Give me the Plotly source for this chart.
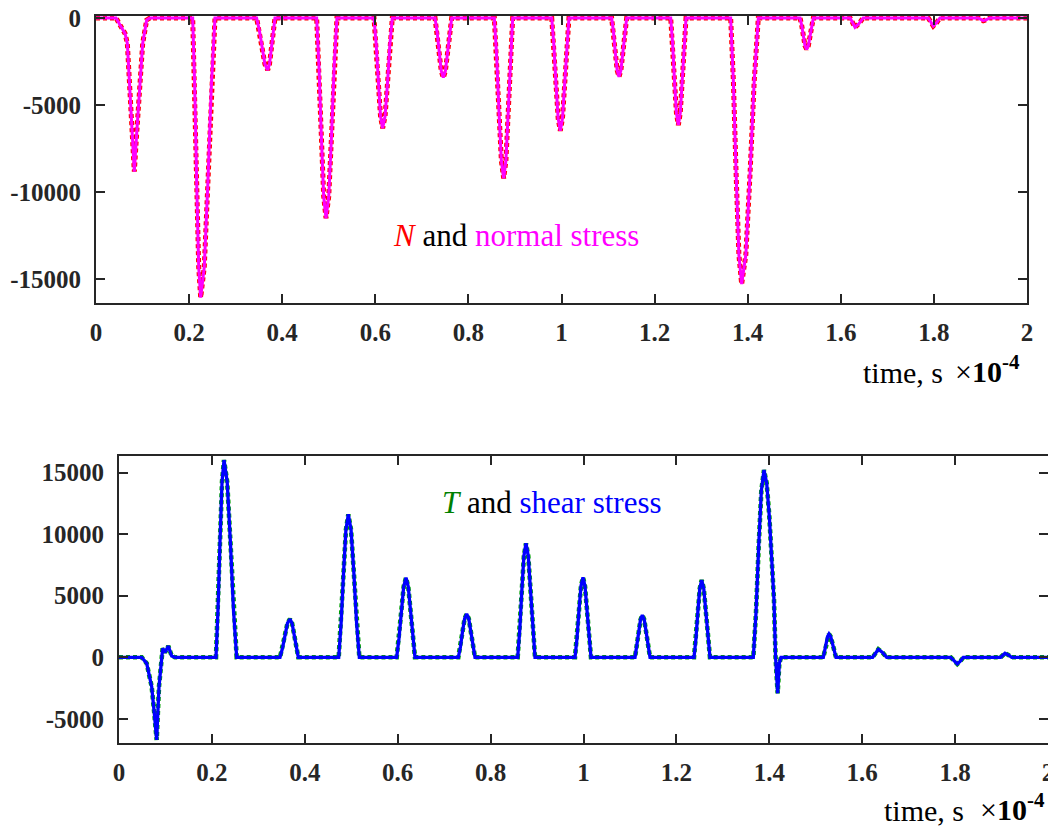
import plotly.graph_objects as go

# time in units of 1e-4 s
t_top = [0.0,
         0.043, 0.0516, 0.0623, 0.0673, 0.0745, 0.0802, 0.0823, 0.0874, 0.0945, 0.1003, 0.1089, 0.116,
         0.2077, 0.2120, 0.2163, 0.2206, 0.2249, 0.2326, 0.2403, 0.2479, 0.2556,
         0.345, 0.351, 0.3569, 0.3629, 0.3688, 0.3727, 0.3767, 0.3806, 0.3845,
         0.474, 0.479, 0.4841, 0.4891, 0.4941, 0.5, 0.5059, 0.5117, 0.5176,
         0.5972, 0.6019, 0.6065, 0.6112, 0.6158, 0.621, 0.6262, 0.6313, 0.6365,
         0.7283, 0.7328, 0.7372, 0.7417, 0.7461, 0.7506, 0.7551, 0.7596, 0.7641,
         0.8557, 0.8607, 0.8658, 0.8708, 0.8758, 0.8806, 0.8855, 0.8903, 0.8951,
         0.979, 0.9836, 0.9882, 0.9928, 0.9974, 1.0021, 1.0067, 1.0114, 1.016,
         1.1077, 1.1117, 1.1156, 1.1196, 1.1235, 1.1276, 1.1318, 1.1359, 1.14,
         1.2346, 1.2387, 1.2428, 1.2469, 1.251, 1.2551, 1.2593, 1.2634, 1.2675,
         1.3634, 1.3693, 1.3752, 1.3811, 1.387, 1.396, 1.4049, 1.4139, 1.4228,
         1.5124, 1.516, 1.5196, 1.5231, 1.5267, 1.5303, 1.5339, 1.5374, 1.541,
         1.62, 1.6253, 1.6305, 1.6393, 1.648,
         1.788, 1.7934, 1.7987, 1.806, 1.813,
         1.895, 1.9005, 1.906, 1.913, 1.92,
         2.0]

N_force = [0,
           0, -410, -890, -1460, -4710, -7580, -8830, -6630, -3380, -1460, -120, 0,
           0, -3850, -9480, -14290, -16060, -14290, -9480, -3850, 0,
           0, -720, -1760, -2660, -2990, -2660, -1760, -720, 0,
           0, -2760, -6790, -10240, -11500, -10240, -6790, -2760, 0,
           0, -1520, -3740, -5640, -6340, -5640, -3740, -1520, 0,
           0, -820, -2020, -3050, -3430, -3050, -2020, -820, 0,
           0, -2210, -5430, -8200, -9210, -8200, -5430, -2210, 0,
           0, -1560, -3820, -5770, -6480, -5770, -3820, -1560, 0,
           0, -810, -1990, -3010, -3380, -3010, -1990, -810, 0,
           0, -1480, -3630, -5470, -6150, -5470, -3630, -1480, 0,
           0, -3670, -9020, -13600, -15280, -13600, -9020, -3670, 0,
           0, -430, -1060, -1600, -1800, -1600, -1060, -430, 0,
           0, -320, -540, -320, 0,
           0, -270, -465, -270, 0,
           0, -95, -160, -95, 0,
           0]

normal_stress = list(N_force)

t_bot = [0.0,
         0.0489, 0.0596, 0.0704, 0.076, 0.0811, 0.0861, 0.0919, 0.094, 0.099, 0.1062, 0.1134, 0.1206,
         0.2088, 0.2131, 0.2175, 0.2218, 0.2261, 0.2329, 0.2397, 0.2465, 0.2533,
         0.3466, 0.352, 0.3574, 0.3627, 0.3681, 0.3726, 0.3771, 0.3815, 0.386,
         0.473, 0.4782, 0.4834, 0.4885, 0.4937, 0.4996, 0.5056, 0.5115, 0.5174,
         0.5978, 0.6028, 0.6079, 0.6129, 0.6179, 0.6227, 0.6276, 0.6324, 0.6372,
         0.7305, 0.735, 0.7395, 0.744, 0.7485, 0.753, 0.7575, 0.7619, 0.7664,
         0.8583, 0.8628, 0.8673, 0.8717, 0.8762, 0.8811, 0.8859, 0.8908, 0.8956,
         0.9817, 0.986, 0.9903, 0.9946, 0.9989, 1.0032, 1.0075, 1.0118, 1.0161,
         1.1109, 1.1148, 1.1188, 1.1227, 1.1266, 1.1308, 1.1349, 1.1391, 1.1432,
         1.2379, 1.242, 1.2462, 1.2503, 1.2544, 1.2589, 1.2634, 1.2678, 1.2723,
         1.3656, 1.3714, 1.3771, 1.3829, 1.3886, 1.3944, 1.4001, 1.4047, 1.4101, 1.4135, 1.418, 1.4216, 1.4252,
         1.5163, 1.5193, 1.5224, 1.5254, 1.5285, 1.5322, 1.536, 1.5398, 1.5436,
         1.6225, 1.6286, 1.6347, 1.6437, 1.6527,
         1.7905, 1.7977, 1.8048, 1.8113, 1.8177,
         1.8981, 1.9028, 1.9074, 1.9146, 1.9218,
         2.0]

T_force = [0,
           0, -490, -2390, -4550, -6710, -2390, 460, 730, 400, 920, 110, 0,
           0, 3840, 9450, 14250, 16010, 14250, 9450, 3840, 0,
           0, 750, 1830, 2770, 3110, 2770, 1830, 750, 0,
           0, 2790, 6850, 10330, 11610, 10330, 6850, 2790, 0,
           0, 1550, 3810, 5750, 6460, 5750, 3810, 1550, 0,
           0, 840, 2080, 3130, 3520, 3130, 2080, 840, 0,
           0, 2220, 5460, 8230, 9250, 8230, 5460, 2220, 0,
           0, 1560, 3830, 5780, 6490, 5780, 3830, 1560, 0,
           0, 820, 2020, 3050, 3430, 3050, 2020, 820, 0,
           0, 1500, 3700, 5580, 6270, 5580, 3700, 1500, 0,
           0, 3650, 8970, 13530, 15200, 14120, 11410, 8710, 4650, 0, -2920, -490, 0,
           0, 450, 1120, 1680, 1890, 1680, 1120, 450, 0,
           0, 390, 650, 390, 0,
           0, -320, -540, -320, 0,
           0, 190, 325, 190, 0,
           0]

shear_stress = list(T_force)

x_ticks = [0, 0.2, 0.4, 0.6, 0.8, 1, 1.2, 1.4, 1.6, 1.8, 2]
x_ticklabels = ["0", "0.2", "0.4", "0.6", "0.8", "1", "1.2", "1.4", "1.6", "1.8", "2"]
y_ticks_top = [-15000, -10000, -5000, 0]
y_ticks_bot = [-5000, 0, 5000, 10000, 15000]

OFF = 8  # page body margin
W, H = 1056, 830 - OFF
SERIF = "Liberation Serif, Times New Roman, serif"
AX = "#262626"

fig = go.Figure()
fig.add_trace(go.Scatter(x=t_top, y=N_force, mode="lines", name="N",
                         line=dict(color="#FF0000", width=5, dash="4px,3px"),
                         xaxis="x", yaxis="y"))
fig.add_trace(go.Scatter(x=t_top, y=normal_stress, mode="lines", name="normal stress",
                         line=dict(color="#FF00FF", width=3),
                         xaxis="x", yaxis="y"))
fig.add_trace(go.Scatter(x=t_bot, y=T_force, mode="lines", name="T",
                         line=dict(color="#00A000", width=4.6, dash="4px,3px"),
                         xaxis="x2", yaxis="y2"))
fig.add_trace(go.Scatter(x=t_bot, y=shear_stress, mode="lines", name="shear stress",
                         line=dict(color="#0000FF", width=3.3),
                         xaxis="x2", yaxis="y2"))


def px(v):
    return (v - OFF) / W


def py(v):
    return 1 - (v - OFF) / H


axis_common = dict(showline=True, linecolor=AX, linewidth=2, mirror="ticks",
                   ticks="inside", ticklen=9, tickwidth=2, tickcolor=AX,
                   showgrid=False, zeroline=False, automargin=False,
                   ticklabeloverflow="allow",
                   tickfont=dict(family=SERIF, size=25, color=AX))

fig.update_layout(
    width=W, height=H,
    margin=dict(l=0, r=0, t=0, b=0, autoexpand=False),
    paper_bgcolor="white", plot_bgcolor="white",
    showlegend=False,
    xaxis=dict(domain=[px(96), px(1027)], anchor="y", range=[0, 2],
               tickvals=x_ticks, ticktext=["<b>%s</b>" % s for s in x_ticklabels],
               ticklabelstandoff=6, **axis_common),
    yaxis=dict(domain=[py(302.7), py(15.7)], anchor="x", range=[-16350, 126],
               tickvals=y_ticks_top, ticktext=["<b>%d</b>" % v for v in y_ticks_top],
               ticklabelstandoff=8, **axis_common),
    xaxis2=dict(domain=[px(119), px(1048)], anchor="y2", range=[0, 2],
                tickvals=x_ticks, ticktext=["<b>%s</b>" % s for s in x_ticklabels],
                ticklabelstandoff=6, **axis_common),
    yaxis2=dict(domain=[py(743), py(456)], anchor="x2", range=[-6956, 16340],
                tickvals=y_ticks_bot, ticktext=["<b>%d</b>" % v for v in y_ticks_bot],
                ticklabelstandoff=8, **axis_common),
)

ann = []
ann.append(dict(x=px(516), y=py(235), xref="paper", yref="paper", showarrow=False,
                xanchor="center", yanchor="middle",
                text="<span style='color:#FF0000'><i>N</i></span> and <span style='color:#FF00FF'>normal stress</span>",
                font=dict(family=SERIF, size=31, color="black")))
ann.append(dict(x=px(552), y=py(502), xref="paper", yref="paper", showarrow=False,
                xanchor="center", yanchor="middle",
                text="<span style='color:#008000'><i>T</i></span> and <span style='color:#0000FF'>shear stress</span>",
                font=dict(family=SERIF, size=31, color="black")))
for (xr, yc, xs) in [(945, 372, 953), (966, 810, 978)]:
    ann.append(dict(x=px(xr), y=py(yc), xref="paper", yref="paper", showarrow=False,
                    xanchor="right", yanchor="middle",
                    text="time, s", font=dict(family=SERIF, size=30, color="black")))
    ann.append(dict(x=px(xs), y=py(yc - 3), xref="paper", yref="paper", showarrow=False,
                    xanchor="left", yanchor="middle",
                    text="×<b>10<sup>-4</sup></b>", font=dict(family=SERIF, size=30, color="black")))
fig.update_layout(annotations=ann)

fig.write_html("out.html")
